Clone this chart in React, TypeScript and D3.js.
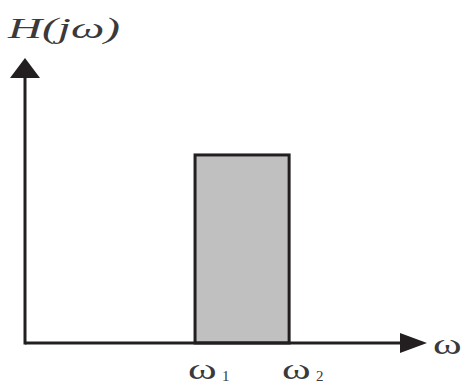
import React from "react";
import * as d3 from "d3";

const bandEdges = [0.423, 0.657];
const bandLabels = ["1", "2"];
const bandGain = [1];
const axisLabelX = "ω";
const axisLabelY = "H(jω)";

const W = 461, H = 385;

function WideOmega({ x, y, sub }: { x: number; y: number; sub?: string }) {
  return (
    <g>
      <text
        transform={`translate(${x},${y}) scale(1.5,1)`}
        fontFamily="Liberation Serif"
        fontSize={29}
        fill="#3a3a3a"
      >
        {axisLabelX}
      </text>
      {sub && (
        <text x={x + 34} y={y + 2} fontFamily="Liberation Serif" fontSize={15} fill="#3a3a3a">
          {sub}
        </text>
      )}
    </g>
  );
}

export default function App() {
  const x = d3.scaleLinear().domain([0, 1]).range([25, 427]);
  const y = d3.scaleLinear().domain([0, 1.505]).range([343, 60]);
  const x0 = x(0), y0 = y(0);
  const xEnd = x(1), yEnd = y(1.505);
  const dark = "#231f20";
  return (
    <svg width={W} height={H} style={{ position: "absolute", left: 0, top: 0, background: "#fff" }}>
      <rect
        x={x(bandEdges[0])}
        y={y(bandGain[0])}
        width={x(bandEdges[1]) - x(bandEdges[0])}
        height={y0 - y(bandGain[0])}
        fill="#c0c0c0"
        stroke={dark}
        strokeWidth={3}
      />
      <line x1={x0} y1={y0} x2={xEnd - 20} y2={y0} stroke={dark} strokeWidth={3} />
      <line x1={x0} y1={y0 + 1.5} x2={x0} y2={yEnd + 15} stroke={dark} strokeWidth={3} />
      <path d={`M${xEnd},${y0} L${xEnd - 27},${y0 - 10} L${xEnd - 27},${y0 + 10} Z`} fill={dark} />
      <path d={`M${x0},${yEnd - 2} L${x0 - 15},${yEnd + 18} L${x0 + 15},${yEnd + 18} Z`} fill={dark} />
      <WideOmega x={433} y={354} />
      <text
        x={8}
        y={38}
        fontFamily="Liberation Serif"
        fontStyle="italic"
        fontSize={30}
        fill="#3a3a3a"
        textLength={112}
        lengthAdjust="spacingAndGlyphs"
      >
        {axisLabelY}
      </text>
      {bandEdges.map((e, i) => (
        <WideOmega key={i} x={x(e) - 7} y={379} sub={bandLabels[i]} />
      ))}
    </svg>
  );
}
